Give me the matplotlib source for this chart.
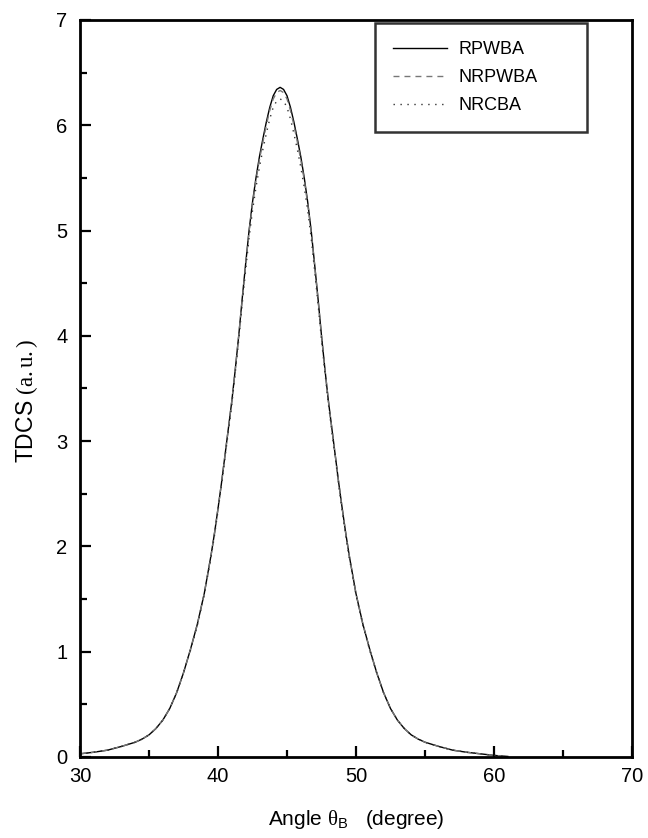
import matplotlib
matplotlib.use("Agg")
import matplotlib.pyplot as plt
from matplotlib.ticker import MultipleLocator

plt.rcParams["font.family"] = ["Liberation Sans", "DejaVu Sans"]
plt.rcParams["mathtext.fontset"] = "custom"
plt.rcParams["mathtext.rm"] = "Liberation Serif"
plt.rcParams["mathtext.sf"] = "Liberation Sans"
plt.rcParams["mathtext.it"] = "Liberation Serif:italic"

# ── data ─────────────────────────────────────────────────────
angle = [30, 31, 32, 33, 34, 34.5, 35, 35.5, 36, 36.5, 37, 37.5, 38, 38.5,
         39, 39.5, 39.75, 40, 40.25, 40.5, 40.75, 41, 41.25, 41.5, 41.75,
         42, 42.25, 42.5, 42.75, 43, 43.25, 43.5, 43.75, 44, 44.25, 44.5,
         44.75, 45, 45.25, 45.5, 45.75, 46, 46.25, 46.5, 46.75, 47, 47.25,
         47.5, 47.75, 48, 48.25, 48.5, 48.75, 49, 49.25, 49.5, 50, 50.5,
         51, 51.5, 52, 52.5, 53, 53.5, 54, 54.5, 55, 56, 57, 58, 59, 60, 61]

rpwba = [0.03, 0.045, 0.065, 0.10, 0.14, 0.17, 0.21, 0.27, 0.35, 0.46,
         0.61, 0.80, 1.02, 1.26, 1.55, 1.92, 2.13, 2.36, 2.60, 2.86, 3.12,
         3.38, 3.68, 4.00, 4.35, 4.68, 5.00, 5.27, 5.50, 5.70, 5.87, 6.03,
         6.17, 6.28, 6.34, 6.36,
         6.34, 6.28, 6.17, 6.03, 5.87, 5.70, 5.50, 5.27, 5.00, 4.68, 4.35,
         4.00, 3.68, 3.38, 3.12, 2.86, 2.60, 2.36, 2.13, 1.92, 1.55, 1.26,
         1.02, 0.80, 0.61, 0.46, 0.35, 0.27, 0.21, 0.17, 0.14, 0.10, 0.065,
         0.045, 0.03, 0.015, 0.005]

nrpwba = [0.03, 0.045, 0.065, 0.10, 0.14, 0.17, 0.21, 0.27, 0.35, 0.46,
          0.61, 0.80, 1.02, 1.26, 1.55, 1.92, 2.13, 2.36, 2.60, 2.86, 3.12,
          3.38, 3.68, 4.00, 4.34, 4.67, 4.99, 5.25, 5.48, 5.67, 5.84, 6.00,
          6.14, 6.25, 6.31, 6.33,
          6.31, 6.25, 6.14, 6.00, 5.84, 5.67, 5.48, 5.25, 4.99, 4.67, 4.34,
          4.00, 3.68, 3.38, 3.12, 2.86, 2.60, 2.36, 2.13, 1.92, 1.55, 1.26,
          1.02, 0.80, 0.61, 0.46, 0.35, 0.27, 0.21, 0.17, 0.14, 0.10, 0.065,
          0.045, 0.03, 0.015, 0.005]

nrcba = [0.03, 0.045, 0.065, 0.10, 0.14, 0.17, 0.21, 0.27, 0.35, 0.46,
         0.61, 0.80, 1.01, 1.25, 1.54, 1.90, 2.11, 2.34, 2.58, 2.84, 3.09,
         3.35, 3.65, 3.96, 4.30, 4.62, 4.93, 5.19, 5.41, 5.60, 5.77, 5.92,
         6.06, 6.17, 6.23, 6.25,
         6.23, 6.17, 6.06, 5.92, 5.77, 5.60, 5.41, 5.19, 4.93, 4.62, 4.30,
         3.96, 3.65, 3.35, 3.09, 2.84, 2.58, 2.34, 2.11, 1.90, 1.54, 1.25,
         1.01, 0.80, 0.61, 0.46, 0.35, 0.27, 0.21, 0.17, 0.14, 0.10, 0.065,
         0.045, 0.03, 0.015, 0.005]

# ── figure ───────────────────────────────────────────────────
fig = plt.figure(figsize=(6.48, 8.38), dpi=100, facecolor="white")
ax = fig.add_axes([0.1235, 0.0967, 0.8518, 0.8795])

ax.plot(angle, rpwba, color="black", lw=1.0, ls="-", label="RPWBA")
ax.plot(angle, nrpwba, color="#777777", lw=1.0, ls=(0, (4.3, 3.6)), label="NRPWBA")
ax.plot(angle, nrcba, color="#333333", lw=1.0, ls=(0, (1, 4)), label="NRCBA")

ax.set_xlim(30, 70)
ax.set_ylim(0, 7)
ax.xaxis.set_major_locator(MultipleLocator(10))
ax.xaxis.set_minor_locator(MultipleLocator(5))
ax.yaxis.set_major_locator(MultipleLocator(1))
ax.yaxis.set_minor_locator(MultipleLocator(0.5))

ax.tick_params(which="both", direction="in", width=1.6, labelsize=14.5)
ax.tick_params(which="major", length=8)
ax.tick_params(which="minor", length=5)
ax.tick_params(axis="x", pad=7)
ax.tick_params(axis="y", pad=9)
for spine in ax.spines.values():
    spine.set_linewidth(2.0)

ax.set_xlabel(r"Angle $\mathrm{θ}_{\mathsf{B}}$   (degree)", fontsize=15, labelpad=16)
ax.set_ylabel(r"TDCS $\mathrm{(a.u.)}$", fontsize=16.5, labelpad=12)
ax.yaxis.label.set_y(0.483)

leg = ax.legend(loc="upper left", bbox_to_anchor=(0.5344, 0.5, 0.3841, 0.4959),
                mode="expand", fontsize=13, frameon=True, fancybox=False,
                edgecolor="black", handlelength=3.0, handletextpad=0.65,
                borderpad=1.0, labelspacing=0.62, borderaxespad=0)
leg.get_frame().set_linewidth(1.8)

plt.savefig("out.png", dpi=100, facecolor="white")
plt.close()
